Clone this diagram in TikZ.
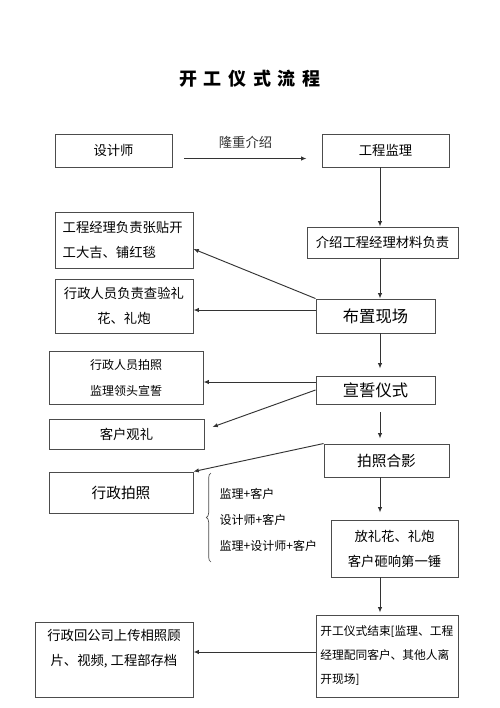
\documentclass[tikz,border=0pt]{standalone}
\usepackage{fontspec}
\setmainfont{Noto Sans CJK SC}
\usetikzlibrary{arrows.meta,calc,decorations.pathreplacing}

\tikzset{
  box/.style={draw=black!70,line width=0.7pt,inner sep=2pt,align=center},
  boxsize/.style 2 args={minimum width=#1*0.75pt,minimum height=#2*0.75pt},
  bigtext/.style={font=\fontsize{12.2}{15}\selectfont},
  midtext/.style={font=\fontsize{11}{14}\selectfont},
  link/.style={-{Latex[length=4pt,width=3.2pt]},black!80,line width=0.7pt},
}

\begin{document}
\begin{tikzpicture}[x=0.75pt,y=-0.75pt,font=\fontsize{10}{18.7}\selectfont]
  \path[fill=white,use as bounding box] (0,0) rectangle (500,708);
  \node[font=\fontsize{13.5}{16}\selectfont\bfseries] (title) at (250,79)
    {开\hspace{5pt}工\hspace{5pt}仪\hspace{5pt}式\hspace{5pt}流\hspace{5pt}程};

  % right column
  \node[box,boxsize={117}{33}] (designer) at (113.5,150.5) {设计师};
  \node[box,boxsize={127}{33}] (supervisor) at (385.5,150.5) {工程监理};
  \node[box,boxsize={151}{31}] (intro) at (382.5,242.5) {介绍工程经理材料负责};
  \node[box,bigtext,boxsize={119}{34}] (layout) at (375.5,316) {布置现场};
  \node[box,bigtext,boxsize={119}{28}] (oath) at (375.5,390) {宣誓仪式};
  \node[box,midtext,boxsize={125}{33}] (photo) at (386.5,460.5) {拍照合影};
  \node[box,boxsize={127}{57}] (salute) at (394.5,548.5)
    {放礼花、礼炮\\客户砸响第一锤};
  \node[box,boxsize={142}{82},font=\fontsize{8.8}{18}\selectfont,
    text width=100pt,align=left] (finish) at (387,656)
    {开工仪式结束[监理、工程\\经理配同客户、其他人离\\开现场]};

  % left column
  \node[box,boxsize={138}{56},text width=92pt,align=left] (poster) at (124,240)
    {工程经理负责张贴开\\工大吉、铺红毯};
  \node[box,boxsize={138}{54}] (check) at (124,306) {行政人员负责查验礼\\花、礼炮};
  \node[box,boxsize={154}{53},font=\fontsize{9}{19.5}\selectfont] (oathphoto)
    at (126,377.5) {行政人员拍照\\监理领头宣誓};
  \node[box,boxsize={155}{30}] (guest) at (126.5,434) {客户观礼};
  \node[box,midtext,boxsize={144}{41}] (adminphoto) at (121,492.5) {行政拍照};
  \node[box,boxsize={158}{75}] (archive) at (114,659.5)
    {行政回公司上传相照顾\\片、视频, 工程部存档\\\mbox{}};

  % photo groups
  \node[font=\fontsize{9}{11}\selectfont,anchor=west] (pairA) at (215,494) {监理+客户};
  \node[font=\fontsize{9}{11}\selectfont,anchor=west] (pairB) at (215,520) {设计师+客户};
  \node[font=\fontsize{9}{11}\selectfont,anchor=west] (pairC) at (215,546) {监理+设计师+客户};
  \draw[black!70,line width=0.5pt,decorate,decoration={brace,amplitude=3.5pt}]
    ($(pairC.west)+(-4,16)$) -- ($(pairA.west)+(-4,-21)$);

  % connectors
  \coordinate (spine) at (380,0);
  \draw[link] ($(designer.east)+(12,8)$) --
    node[above=4pt] (introduce) {隆重介绍}
    ($(supervisor.west)+(-15,8)$);
  \draw[link] (supervisor.south -| spine) -- (intro.north -| spine);
  \draw[link] (intro.south -| spine) -- (layout.north -| spine);
  \draw[link] (layout.north west) -- ($(poster.east)+(0,9)$);
  \draw[link] ($(layout.west)+(0,-6)$) -- ($(check.east)+(0,4)$);
  \draw[link] (layout.south -| spine) -- ($(oath.north -| spine)+(0,-7)$);
  \draw[link] ($(oath.west)+(0,-8)$) -- ($(oathphoto.east)+(0,4.5)$);
  \draw[link] (oath.west) -- ($(guest.east)+(8,-7)$);
  \draw[link] ($(oath.south -| spine)+(0,8)$) -- ($(photo.north -| spine)+(0,-5)$);
  \draw[link] (photo.north west) -- (adminphoto.north east);
  \draw[link] (photo.south -| spine) -- ($(salute.north -| spine)+(0,-7)$);
  \draw[link] (salute.south -| spine) -- ($(finish.north -| spine)+(0,-2)$);
  \draw[link] ($(finish.west)+(0,-4)$) -- ($(archive.east)+(0,-7.5)$);
\end{tikzpicture}
\end{document}
